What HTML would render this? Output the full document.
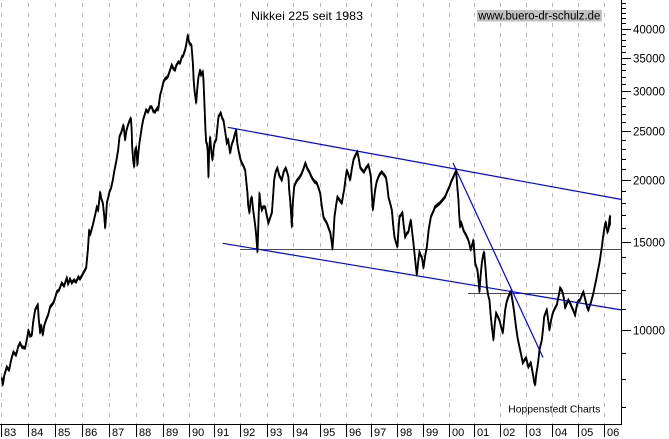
<!DOCTYPE html>
<html><head><meta charset="utf-8"><style>
html,body{margin:0;padding:0;background:#fff}
svg{display:block}
text{font-family:"Liberation Sans",Arial,sans-serif;fill:#000}
</style></head><body>
<svg width="669" height="439" viewBox="0 0 669 439" xmlns="http://www.w3.org/2000/svg" xmlns:xlink="http://www.w3.org/1999/xlink">
<rect width="669" height="439" fill="#fff"/>
<g stroke="#b8b8b8" stroke-width="1" stroke-dasharray="4 6" stroke-dashoffset="7">
<line x1="1.5" y1="0" x2="1.5" y2="424"/><line x1="28.5" y1="0" x2="28.5" y2="424"/><line x1="55.5" y1="0" x2="55.5" y2="424"/><line x1="82.5" y1="0" x2="82.5" y2="424"/><line x1="109.5" y1="0" x2="109.5" y2="424"/><line x1="136.5" y1="0" x2="136.5" y2="424"/><line x1="163.5" y1="0" x2="163.5" y2="424"/><line x1="189.5" y1="0" x2="189.5" y2="424"/><line x1="214.5" y1="0" x2="214.5" y2="424"/><line x1="240.5" y1="0" x2="240.5" y2="424"/><line x1="267.5" y1="0" x2="267.5" y2="424"/><line x1="293.5" y1="0" x2="293.5" y2="424"/><line x1="320.5" y1="0" x2="320.5" y2="424"/><line x1="346.5" y1="0" x2="346.5" y2="424"/><line x1="371.5" y1="0" x2="371.5" y2="424"/><line x1="397.5" y1="0" x2="397.5" y2="424"/><line x1="423.5" y1="0" x2="423.5" y2="424"/><line x1="449.5" y1="0" x2="449.5" y2="424"/><line x1="474.5" y1="0" x2="474.5" y2="424"/><line x1="500.5" y1="0" x2="500.5" y2="424"/><line x1="526.5" y1="0" x2="526.5" y2="424"/><line x1="552.5" y1="0" x2="552.5" y2="424"/><line x1="578.5" y1="0" x2="578.5" y2="424"/><line x1="604.5" y1="0" x2="604.5" y2="424"/>
</g>
<!-- red horizontal lines -->
<line x1="240" y1="249.5" x2="621" y2="249.5" stroke="#ff0000" stroke-width="1"/>
<line x1="468" y1="293.5" x2="621" y2="293.5" stroke="#ff0000" stroke-width="1"/>
<!-- blue trend lines -->
<line x1="227.7" y1="127.3" x2="621" y2="199.4" stroke="#0000ff" stroke-width="1.2"/>
<line x1="222.7" y1="243.3" x2="621" y2="309.9" stroke="#0000ff" stroke-width="1.2"/>
<line x1="453" y1="163" x2="543" y2="357.5" stroke="#0000ff" stroke-width="1.2"/>
<!-- series -->
<defs>
<polyline id="s" fill="none" stroke="#000" stroke-linejoin="miter" points="1.7,378 2.7,385 4,376 6.7,367 9,370 11,360 13.3,352 16,355 18,347 20,343 22,347 25,348 27,338 28.3,330 30,336 31.7,335 33,322 35,310 37.7,305 38.5,318 40,333 41,325 42.7,335 44,326 46,320 48,315 50,307 53.3,303 55,298 56.7,292 59,290 61.7,283 64,286 66.7,278 68,284 70,279 71.7,283 74,280 76,282 78.3,277 80,279 83.3,273 86,268 87.7,250 89,230 90,235 92.7,225 95,215 96.7,207 98,210 100,192 101,198 102.7,203 104,215 105,228 106,215 106.7,203 108,198 109.3,192 111,188 112.7,180 114,172 116,162 118,150 119.3,137 121,133 123.3,125 125,140 126,132 127.3,127 129,122 130.7,118 131.5,130 132,147 133,160 134,167 135,150 136,148 137.3,165 138,155 139.3,143 141.7,127 143,120 146,110 148,112 150,107 151.7,107 153,111 155,112 157.3,108 158,110 160,95 161,92 163.3,82 165,79 167.7,77 169,73 171.7,65 173,68 175,70 176,66 178.3,62 180,63 181.7,57 183,56 185,50 186,45 187.7,35 188.5,40 189.3,43 191.3,45 192.7,63 193.5,80 194.3,90 196,103 197,90 198.3,77 200,70 201,75 202.7,72 203.3,80 204,97 205.3,130 206,142 206.7,143 207.5,150 208.3,177 209,150 210,137 211,150 212.3,160 213.3,150 214.3,143 216,140 217,130 218.3,117 220.7,113 222,118 223.3,120 224.5,128 226.7,143 228,140 230,153 231.5,145 233.3,140 234.5,135 236,130 237,142 238.3,150 240,158 241.7,163 243,165 245,170 246,180 247.3,193 248,205 249.3,213 250.5,200 251.7,197 253,210 255,225 256,235 257.3,252 258,230 259.3,193 260.5,205 261.7,210 263,207 265,207 266.5,215 268.3,223 270,218 271.7,213 273,195 274,180 275.5,172 277.3,168 279,175 281.7,180 283.5,172 285.7,168 287,172 288.3,177 289,190 290,200 291,215 291.7,227 292.5,205 294,187 295.5,183 297.3,180 299,178 301,175 303,170 305.3,163 307,168 309.3,172 311,176 313.3,180 315,182 316.7,183 318.5,188 320,193 321.5,205 323.3,217 325,220 326.7,223 328.5,228 330,232 331.3,240 332.3,249 333.3,235 334.3,217 336,205 337.3,197 339.5,200 341.7,203 343,195 344,190 345.5,178 346.7,170 348.5,175 350,180 351.5,170 353.3,160 355.5,155 357.3,152 358.5,158 360,167 362,170 364,172 366,168 368.3,165 369.5,170 370.7,177 371.7,195 372.7,210 373.8,200 375,190 376.5,182 378.3,177 380,174 381.7,172 383.5,174 385.7,177 387,185 388.3,197 390,203 391.7,210 393,225 394.3,237 395.8,242 397.3,247 398.3,230 399.3,217 401,215 402.3,213 403.5,225 405,237 406.5,234 408.3,232 409.5,225 410.7,220 412,232 413.3,243 415,260 416.7,275 418,262 419.3,252 420.5,255 421.7,257 422.5,262 423.3,268 425,256 426.7,247 428.5,230 430.7,217 433,212 435,207 437.5,205 440,203 442.5,200 445,197 447,192 449.3,187 451,182 453.3,177 455,173 456,171 457,185 458.3,200 459,215 460,227 461,222 463.3,230 466,235 468.3,240 469.5,245 470.7,250 472,245 473.3,240 474,250 475,263 476,266 477.3,270 478.3,280 479.3,292 480.5,275 481.7,263 483,255 484,252 485.5,270 486.7,287 488,295 489.3,300 490.5,315 491.7,327 492.5,333 493.3,340 494.5,325 496,313 497.5,316 499.3,320 501,327 502.7,333 504,320 505,310 506.5,302 508.3,297 509.5,294 510.7,292 511.7,297 512.7,303 514,312 515,320 516,328 517.3,337 518.5,343 520,350 521.5,357 522.7,363 524.5,360 526,358 527,362 528.3,367 529.5,365 530.7,363 532,370 533.3,377 534,382 535,385 536,375 537.3,367 538.5,358 539.3,350 540.5,345 541.7,340 543,328 544,317 545.5,313 546.7,310 548,320 549.3,330 551,320 552.7,313 554.5,309 556.7,305 558.5,296 560,288 561.5,290 562.7,293 564,300 565,308 566.5,304 568.3,300 570,303 571.7,307 573.5,311 575,315 576,309 577.3,303 578.5,301 580,300 581.5,296 583.3,292 584.5,297 586,303 587,307 588.3,310 589.5,306 590.7,303 592,298 593.3,293 594.5,287 596,280 597.5,272 599.3,263 600.5,255 601.7,247 602.8,238 604,230 605,224 605.7,222 606.5,228 607.3,232 608.3,230 609.2,220 610,216 609.5,226 610,222"/>
</defs>
<use xlink:href="#s" href="#s" stroke-width="1.5"/>
<use xlink:href="#s" href="#s" stroke-width="1" transform="translate(0,-1.3)"/>
<use xlink:href="#s" href="#s" stroke-width="1" transform="translate(0,1.3)"/>
<use xlink:href="#s" href="#s" stroke-width="1" transform="translate(0.6,0)"/>
<!-- axes -->
<line x1="0" y1="424.5" x2="622" y2="424.5" stroke="#000" stroke-width="1"/>
<line x1="621.5" y1="0" x2="621.5" y2="425" stroke="#000" stroke-width="1"/>
<!-- y ticks -->
<g stroke="#000" stroke-width="1">
<line x1="621" y1="3.5" x2="626" y2="3.5"/><line x1="621" y1="8.5" x2="626" y2="8.5"/><line x1="621" y1="13.5" x2="626" y2="13.5"/><line x1="621" y1="18.5" x2="626" y2="18.5"/><line x1="621" y1="23.5" x2="626" y2="23.5"/>
<line x1="621" y1="29.5" x2="631" y2="29.5"/>
<line x1="621" y1="34.5" x2="626" y2="34.5"/><line x1="621" y1="40.5" x2="626" y2="40.5"/><line x1="621" y1="46.5" x2="626" y2="46.5"/><line x1="621" y1="52.5" x2="626" y2="52.5"/>
<line x1="621" y1="58.5" x2="631" y2="58.5"/>
<line x1="621" y1="64.5" x2="626" y2="64.5"/><line x1="621" y1="70.5" x2="626" y2="70.5"/><line x1="621" y1="77.5" x2="626" y2="77.5"/><line x1="621" y1="84.5" x2="626" y2="84.5"/>
<line x1="621" y1="91.5" x2="631" y2="91.5"/>
<line x1="621" y1="98.5" x2="626" y2="98.5"/><line x1="621" y1="106.5" x2="626" y2="106.5"/><line x1="621" y1="114.5" x2="626" y2="114.5"/><line x1="621" y1="122.5" x2="626" y2="122.5"/>
<line x1="621" y1="131.5" x2="631" y2="131.5"/>
<line x1="621" y1="140.5" x2="626" y2="140.5"/><line x1="621" y1="149.5" x2="626" y2="149.5"/><line x1="621" y1="159.5" x2="626" y2="159.5"/><line x1="621" y1="169.5" x2="626" y2="169.5"/>
<line x1="621" y1="180.5" x2="631" y2="180.5"/>
<line x1="621" y1="191.5" x2="626" y2="191.5"/><line x1="621" y1="203.5" x2="626" y2="203.5"/><line x1="621" y1="215.5" x2="626" y2="215.5"/><line x1="621" y1="228.5" x2="626" y2="228.5"/>
<line x1="621" y1="242.5" x2="631" y2="242.5"/>
<line x1="621" y1="257.5" x2="626" y2="257.5"/><line x1="621" y1="273.5" x2="626" y2="273.5"/><line x1="621" y1="290.5" x2="626" y2="290.5"/><line x1="621" y1="309.5" x2="626" y2="309.5"/>
<line x1="621" y1="330.5" x2="631" y2="330.5"/>
<line x1="621" y1="353.5" x2="626" y2="353.5"/><line x1="621" y1="379.5" x2="626" y2="379.5"/><line x1="621" y1="407.5" x2="626" y2="407.5"/>
</g>
<g font-size="11.5">
<text x="633" y="33.5" textLength="32" lengthAdjust="spacingAndGlyphs">40000</text>
<text x="633" y="62.5" textLength="32" lengthAdjust="spacingAndGlyphs">35000</text>
<text x="633" y="95.5" textLength="32" lengthAdjust="spacingAndGlyphs">30000</text>
<text x="633" y="135.5" textLength="32" lengthAdjust="spacingAndGlyphs">25000</text>
<text x="633" y="184.5" textLength="32" lengthAdjust="spacingAndGlyphs">20000</text>
<text x="633" y="246.5" textLength="32" lengthAdjust="spacingAndGlyphs">15000</text>
<text x="633" y="334.5" textLength="32" lengthAdjust="spacingAndGlyphs">10000</text>
</g>
<!-- x ticks -->
<g stroke="#000" stroke-width="1">
<line x1="1.5" y1="425" x2="1.5" y2="437"/><line x1="28.5" y1="425" x2="28.5" y2="437"/><line x1="55.5" y1="425" x2="55.5" y2="437"/><line x1="82.5" y1="425" x2="82.5" y2="437"/><line x1="109.5" y1="425" x2="109.5" y2="437"/><line x1="136.5" y1="425" x2="136.5" y2="437"/><line x1="163.5" y1="425" x2="163.5" y2="437"/><line x1="189.5" y1="425" x2="189.5" y2="437"/><line x1="214.5" y1="425" x2="214.5" y2="437"/><line x1="240.5" y1="425" x2="240.5" y2="437"/><line x1="267.5" y1="425" x2="267.5" y2="437"/><line x1="293.5" y1="425" x2="293.5" y2="437"/><line x1="320.5" y1="425" x2="320.5" y2="437"/><line x1="346.5" y1="425" x2="346.5" y2="437"/><line x1="371.5" y1="425" x2="371.5" y2="437"/><line x1="397.5" y1="425" x2="397.5" y2="437"/><line x1="423.5" y1="425" x2="423.5" y2="437"/><line x1="449.5" y1="425" x2="449.5" y2="437"/><line x1="474.5" y1="425" x2="474.5" y2="437"/><line x1="500.5" y1="425" x2="500.5" y2="437"/><line x1="526.5" y1="425" x2="526.5" y2="437"/><line x1="552.5" y1="425" x2="552.5" y2="437"/><line x1="578.5" y1="425" x2="578.5" y2="437"/><line x1="604.5" y1="425" x2="604.5" y2="437"/>
</g>
<g font-size="11">
<text x="4" y="436">83</text><text x="31" y="436">84</text><text x="58" y="436">85</text><text x="85" y="436">86</text><text x="112" y="436">87</text><text x="139" y="436">88</text><text x="166" y="436">89</text><text x="192" y="436">90</text><text x="217" y="436">91</text><text x="243" y="436">92</text><text x="270" y="436">93</text><text x="296" y="436">94</text><text x="323" y="436">95</text><text x="349" y="436">96</text><text x="374" y="436">97</text><text x="400" y="436">98</text><text x="426" y="436">99</text><text x="452" y="436">00</text><text x="477" y="436">01</text><text x="503" y="436">02</text><text x="529" y="436">03</text><text x="555" y="436">04</text><text x="581" y="436">05</text><text x="607" y="436">06</text>
</g>
<!-- title & labels -->
<text x="251" y="20" font-size="12" textLength="112" lengthAdjust="spacingAndGlyphs">Nikkei 225 seit 1983</text>
<rect x="477" y="10" width="125" height="11.5" fill="#c0c0c0"/>
<text x="478.3" y="19.5" font-size="11.5" textLength="122" lengthAdjust="spacingAndGlyphs">www.buero-dr-schulz.de</text>
<text x="508.3" y="412.5" font-size="10.5" textLength="92" lengthAdjust="spacingAndGlyphs">Hoppenstedt Charts</text>
</svg>
</body></html>
